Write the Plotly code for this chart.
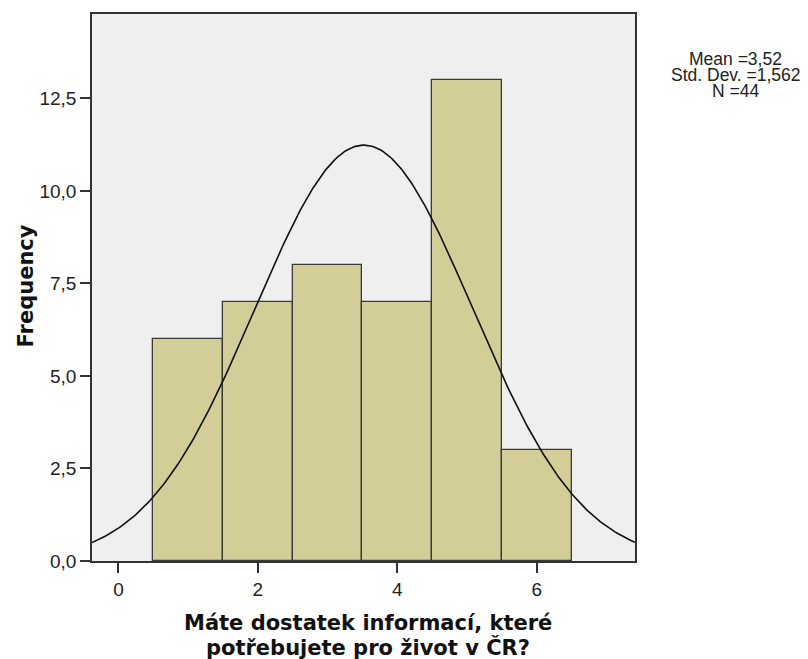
import numpy as np
import plotly.graph_objects as go

categories = [1, 2, 3, 4, 5, 6]
frequencies = [6, 7, 8, 7, 13, 3]
mean_val = 3.52
std_val = 1.562
n_val = 44
x_ticks = [0, 2, 4, 6]
y_ticks = [0, 2.5, 5, 7.5, 10, 12.5]
stats_lines = ["Mean =3,52", "Std. Dev. =1,562", "N =44"]
x_title_lines = ["Máte dostatek informací, které", "potřebujete pro život v ČR?"]
y_title = "Frequency"

# fitted normal curve (defined by the stated mean / sd / N, bin width 1)
xc = np.linspace(-0.38, 7.41, 300)
yc = n_val * 1.0 / (std_val * np.sqrt(2 * np.pi)) * np.exp(-0.5 * ((xc - mean_val) / std_val) ** 2)

fig = go.Figure()
fig.add_trace(go.Bar(
    x=categories, y=frequencies, width=1.0,
    marker=dict(color="#d3cd98", line=dict(color="#3a3a3a", width=1.3)),
    hoverinfo="skip", showlegend=False,
))
fig.add_trace(go.Scatter(
    x=xc, y=yc, mode="lines", line=dict(color="#111111", width=1.6),
    hoverinfo="skip", showlegend=False,
))

annotations = []
for txt, yp in zip(stats_lines, [0.9177, 0.889, 0.859]):
    annotations.append(dict(
        xref="paper", yref="paper", x=1.186, y=yp, xanchor="center", yanchor="middle",
        text=txt, showarrow=False, font=dict(size=17.5, color="#222222"),
    ))
for txt, yp in zip(x_title_lines, [-0.1133, -0.159]):
    annotations.append(dict(
        xref="paper", yref="paper", x=0.508, y=yp, xanchor="center", yanchor="middle",
        text="<b>" + txt + "</b>", showarrow=False,
        font=dict(family="DejaVu Sans, Verdana, sans-serif", size=21, color="#111111"),
    ))
annotations.append(dict(
    xref="paper", yref="paper", x=-0.1215, y=0.502, xanchor="center", yanchor="middle",
    text="<b>" + y_title + "</b>", showarrow=False, textangle=-90,
    font=dict(family="DejaVu Sans, Verdana, sans-serif", size=21, color="#111111"),
))

fig.update_layout(
    width=808, height=659,
    margin=dict(l=92, r=173, t=14, b=98),
    paper_bgcolor="white", plot_bgcolor="#efefef",
    separators=", ",
    font=dict(family="Liberation Sans, Arial, sans-serif", size=19, color="#222222"),
    bargap=0,
    xaxis=dict(
        range=[-0.38, 7.41], tickvals=x_ticks, ticktext=[str(v) for v in x_ticks],
        showgrid=False, zeroline=False, showline=True, linecolor="#333333", linewidth=1.6,
        mirror=True, ticks="outside", ticklen=10, tickwidth=1.6, tickcolor="#333333",
        automargin=False,
    ),
    yaxis=dict(
        range=[0, 14.78], tickvals=y_ticks, tickformat=".1f",
        showgrid=False, zeroline=False, showline=True, linecolor="#333333", linewidth=1.6,
        mirror=True, ticks="outside", ticklen=10, tickwidth=1.6, tickcolor="#333333",
        automargin=False,
    ),
    annotations=annotations,
)

fig.write_html("out.html", config={"displayModeBar": False},
               post_script="document.body.style.margin='0';")
